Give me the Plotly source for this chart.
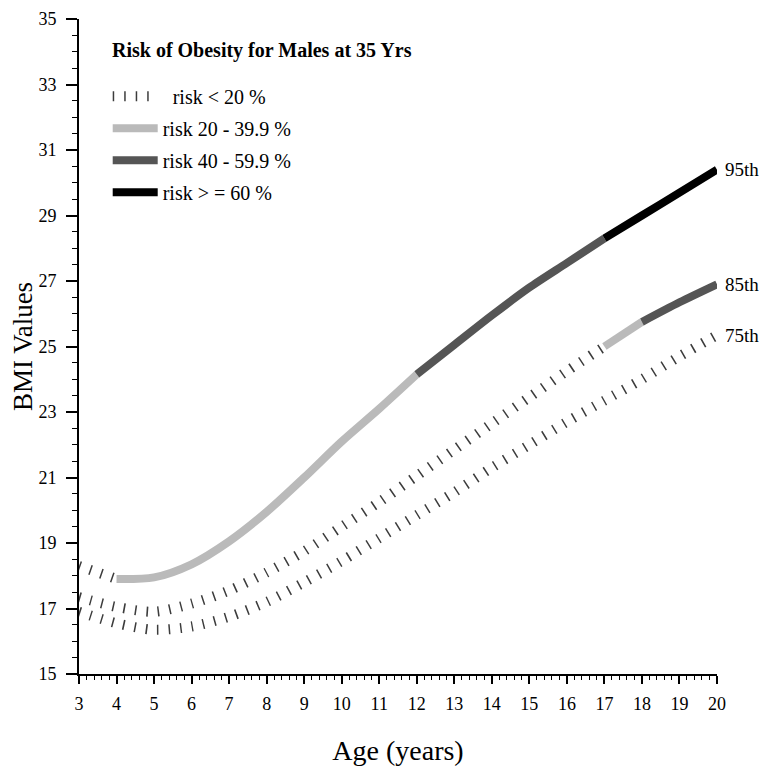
import plotly.graph_objects as go

# ---- data ----
ages = [3, 4, 5, 6, 7, 8, 9, 10, 11, 12, 13, 14, 15, 16, 17, 18, 19, 20]
bmi_95 = [18.3, 17.9, 17.95, 18.35, 19.05, 19.95, 21.0, 22.1, 23.1, 24.15,
          25.05, 25.95, 26.8, 27.55, 28.3, 29.0, 29.7, 30.4]
bmi_85 = [17.35, 17.05, 16.9, 17.15, 17.55, 18.1, 18.75, 19.5, 20.25, 21.05,
          21.85, 22.65, 23.45, 24.25, 25.0, 25.75, 26.35, 26.9]
bmi_75 = [16.9, 16.55, 16.35, 16.45, 16.75, 17.2, 17.8, 18.45, 19.15, 19.85,
          20.55, 21.3, 22.0, 22.7, 23.35, 24.0, 24.7, 25.35]

# risk-category breakpoints (ages) and category index per segment
breaks_95 = [3, 4, 12, 17, 20]
levels_95 = [0, 1, 2, 3]
breaks_85 = [3, 17, 18, 20]
levels_85 = [0, 1, 2]
breaks_75 = [3, 20]
levels_75 = [0]

risk_labels = ["\u00a0\u00a0risk &lt; 20 %", "risk 20 - 39.9 %",
               "risk 40 - 59.9 %", "risk &gt; = 60 %"]
percentile_labels = ["95th", "85th", "75th"]
title_text = "Risk of Obesity for Males at 35 Yrs"

FONT = "Liberation Serif, Times New Roman, serif"
styles = [
    dict(color="#3c3c3c", width=10, dash="1.5px,10px"),
    dict(color="#bababa", width=8, dash="solid"),
    dict(color="#555555", width=8, dash="solid"),
    dict(color="#000000", width=8, dash="solid"),
]

fig = go.Figure()
shown = set()
series = [(bmi_95, breaks_95, levels_95), (bmi_85, breaks_85, levels_85),
          (bmi_75, breaks_75, levels_75)]
for vals, brks, lvls in series:
    for i, lv in enumerate(lvls):
        a, b = brks[i], brks[i + 1]
        xs = [x for x in ages if a <= x <= b]
        ys = [v for x, v in zip(ages, vals) if a <= x <= b]
        fig.add_trace(go.Scatter(
            x=xs, y=ys, mode="lines",
            line=dict(color=styles[lv]["color"], width=styles[lv]["width"],
                      dash=styles[lv]["dash"], shape="spline", smoothing=0.8),
            name=risk_labels[lv], legendgroup="g%d" % lv, legendrank=lv + 1,
            showlegend=(lv not in shown), hoverinfo="skip"))
        shown.add(lv)

for lab, vals in zip(percentile_labels, [bmi_95, bmi_85, bmi_75]):
    fig.add_annotation(x=ages[-1], y=vals[-1], text=lab, showarrow=False,
                       xanchor="left", yanchor="middle", xshift=6,
                       font=dict(family=FONT, size=19, color="black"))

fig.add_annotation(xref="paper", yref="paper", x=0.048, y=0.952,
                   text="<b>%s</b>" % title_text, showarrow=False,
                   xanchor="left", yanchor="middle",
                   font=dict(family=FONT, size=20, color="black"))

# page body has an 8px margin; figure sized to fill the remaining window
fig.update_layout(
    width=762, height=760,
    margin=dict(l=71, r=53, t=11, b=94),
    paper_bgcolor="white", plot_bgcolor="white",
    font=dict(family=FONT, size=18, color="black"),
    showlegend=True,
    legend=dict(x=0.045, y=0.912, xanchor="left", yanchor="top",
                bgcolor="rgba(0,0,0,0)", itemwidth=45, tracegroupgap=3,
                font=dict(family=FONT, size=20, color="black")),
    xaxis=dict(range=[3, 20], tick0=3, dtick=1, ticks="outside", ticklen=8,
               tickwidth=1.5, tickcolor="black", showline=True, linewidth=2,
               linecolor="black", showgrid=False, zeroline=False,
               automargin=False, ticklabelstandoff=4, ticklabeloverflow="allow",
               tickfont=dict(family=FONT, size=18),
               minor=dict(ticks="outside", dtick=0.2, ticklen=4,
                          tickwidth=1, tickcolor="black", showgrid=False),
               title=dict(text="Age (years)", standoff=28,
                          font=dict(family=FONT, size=28))),
    yaxis=dict(range=[15, 35], tick0=15, dtick=2, ticks="outside", ticklen=11,
               tickwidth=1.5, tickcolor="black", showline=True, linewidth=2,
               linecolor="black", showgrid=False, zeroline=False,
               automargin=False, ticklabelstandoff=6, ticklabeloverflow="allow",
               tickfont=dict(family=FONT, size=18),
               minor=dict(ticks="outside", dtick=0.5, ticklen=5,
                          tickwidth=1, tickcolor="black", showgrid=False),
               title=dict(text="BMI Values", standoff=10,
                          font=dict(family=FONT, size=27))),
)

fig.write_html("out.html")
